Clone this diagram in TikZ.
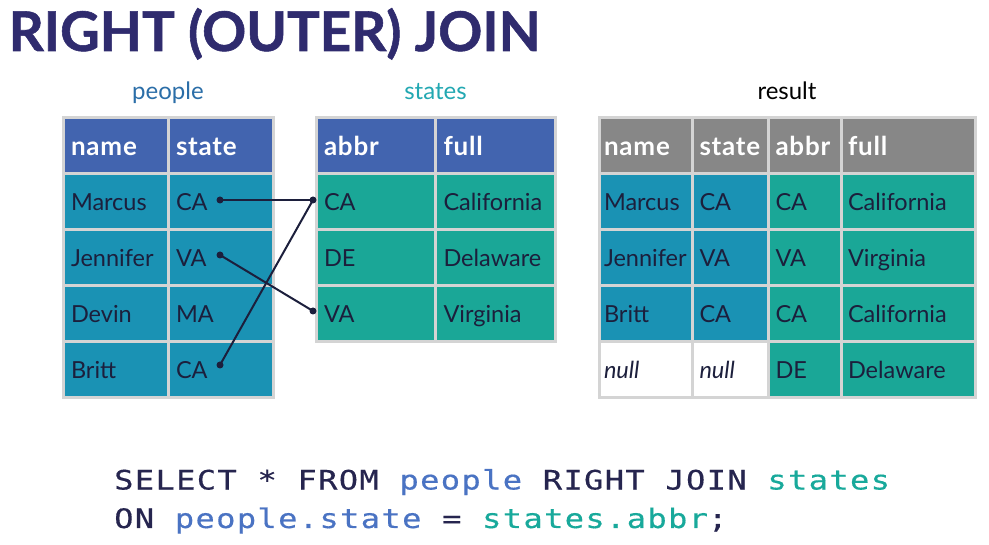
\documentclass[tikz,border=0pt]{standalone}
\usepackage{fontspec}
\setmainfont{Lato}
\newfontfamily\sqlfont[FakeStretch=1.2, LetterSpace=5, FakeBold=0.4]{DejaVu Sans Mono}
\hyphenpenalty=10000

\definecolor{titlenavy}{RGB}{47,43,110}
\definecolor{hdrblue}{RGB}{66,100,175}
\definecolor{hdrgrey}{RGB}{135,135,135}
\definecolor{pblue}{RGB}{26,146,180}
\definecolor{sgreen}{RGB}{26,167,151}
\definecolor{gridgrey}{RGB}{212,212,212}
\definecolor{txtnavy}{RGB}{28,31,60}
\definecolor{lblblue}{RGB}{43,110,168}
\definecolor{lblteal}{RGB}{34,168,178}
\definecolor{kwnavy}{RGB}{38,37,79}
\definecolor{sqlblue}{RGB}{74,115,195}
\definecolor{sqlteal}{RGB}{24,169,155}

\begin{document}
\begin{tikzpicture}[x=1pt, y=-1pt,
    cell/.style={draw=gridgrey, line width=3pt, minimum height=56pt,
      inner xsep=8pt, inner ysep=0pt, align=left, text=txtnavy,
      font=\fontsize{23.5}{28}\selectfont, text height=16.8pt, text depth=0pt},
    hcell/.style={cell, text=white,
      font=\fontsize{26}{30}\selectfont\bfseries\addfontfeature{LetterSpace=3},
      text height=18.5pt},
    nullcell/.style={cell, fill=white, font=\fontsize{23.5}{28}\selectfont\itshape},
    pcol/.style={minimum width=105pt, text width=89pt},
    scol/.style={minimum width=119.5pt, text width=103.5pt},
    rname/.style={minimum width=93.5pt, text width=83.5pt, inner xsep=5pt},
    rstate/.style={minimum width=76pt, text width=62pt, inner xsep=7pt},
    rabbr/.style={minimum width=72.5pt, text width=58.5pt, inner xsep=7pt},
    rfull/.style={minimum width=134pt, text width=120pt, inner xsep=7pt},
    tlabel/.style={anchor=base, inner sep=0pt, font=\fontsize{24}{28}\selectfont},
    sql/.style={anchor=base west, inner sep=0pt, text=kwnavy,
      font=\sqlfont\fontsize{26.75}{32}\selectfont},
    dot/.style={circle, fill=txtnavy, inner sep=0pt, minimum size=7pt},
    joinline/.style={draw=txtnavy, line width=2pt}]
    \useasboundingbox (0,0) rectangle (989,545);
    \fill [white] (0,0) rectangle (989,545);

    % title
    \node [anchor=base west, inner sep=0pt, text=titlenavy,
      font=\fontsize{54.7}{60}\selectfont\bfseries\addfontfeature{FakeBold=1}] (title) at (8.5,51) {RIGHT (OUTER) JOIN};

    % people
    \node [tlabel, text=lblblue] (peoplelbl) at (168,100) {people};
    \node [hcell, pcol, fill=hdrblue] (ph1) at (115.5,146) {name};
    \node [hcell, pcol, fill=hdrblue] (ph2) at (220.5,146) {state};
    \node [cell, pcol, fill=pblue] (p11) at (115.5,202) {Marcus};
    \node [cell, pcol, fill=pblue] (p12) at (220.5,202) {CA};
    \node [cell, pcol, fill=pblue] (p21) at (115.5,258) {Jennifer};
    \node [cell, pcol, fill=pblue] (p22) at (220.5,258) {VA};
    \node [cell, pcol, fill=pblue] (p31) at (115.5,314) {Devin};
    \node [cell, pcol, fill=pblue] (p32) at (220.5,314) {MA};
    \node [cell, pcol, fill=pblue] (p41) at (115.5,370) {Britt};
    \node [cell, pcol, fill=pblue] (p42) at (220.5,370) {CA};

    % states
    \node [tlabel, text=lblteal] (stateslbl) at (435.5,100) {states};
    \node [hcell, scol, fill=hdrblue] (sh1) at (375.75,146) {abbr};
    \node [hcell, scol, fill=hdrblue] (sh2) at (495.25,146) {full};
    \node [cell, scol, fill=sgreen] (s11) at (375.75,202) {CA};
    \node [cell, scol, fill=sgreen] (s12) at (495.25,202) {California};
    \node [cell, scol, fill=sgreen] (s21) at (375.75,258) {DE};
    \node [cell, scol, fill=sgreen] (s22) at (495.25,258) {Delaware};
    \node [cell, scol, fill=sgreen] (s31) at (375.75,314) {VA};
    \node [cell, scol, fill=sgreen] (s32) at (495.25,314) {Virginia};

    % result
    \node [tlabel] (resultlbl) at (787,100) {result};
    \node [hcell, rname, fill=hdrgrey] (rh1) at (645.75,146) {name};
    \node [hcell, rstate, fill=hdrgrey] (rh2) at (730.5,146) {state};
    \node [hcell, rabbr, fill=hdrgrey] (rh3) at (804.75,146) {abbr};
    \node [hcell, rfull, fill=hdrgrey] (rh4) at (908,146) {full};
    \node [cell, rname, fill=pblue] (r11) at (645.75,202) {Marcus};
    \node [cell, rstate, fill=pblue] (r12) at (730.5,202) {CA};
    \node [cell, rabbr, fill=sgreen] (r13) at (804.75,202) {CA};
    \node [cell, rfull, fill=sgreen] (r14) at (908,202) {California};
    \node [cell, rname, fill=pblue] (r21) at (645.75,258) {Jennifer};
    \node [cell, rstate, fill=pblue] (r22) at (730.5,258) {VA};
    \node [cell, rabbr, fill=sgreen] (r23) at (804.75,258) {VA};
    \node [cell, rfull, fill=sgreen] (r24) at (908,258) {Virginia};
    \node [cell, rname, fill=pblue] (r31) at (645.75,314) {Britt};
    \node [cell, rstate, fill=pblue] (r32) at (730.5,314) {CA};
    \node [cell, rabbr, fill=sgreen] (r33) at (804.75,314) {CA};
    \node [cell, rfull, fill=sgreen] (r34) at (908,314) {California};
    \node [nullcell, rname] (r41) at (645.75,370) {null};
    \node [nullcell, rstate] (r42) at (730.5,370) {null};
    \node [cell, rabbr, fill=sgreen] (r43) at (804.75,370) {DE};
    \node [cell, rfull, fill=sgreen] (r44) at (908,370) {Delaware};

    % joins
    \node [dot] (mcadot) at (220,200) {};
    \node [dot] (jvadot) at (220,255) {};
    \node [dot] (bcadot) at (220,365) {};
    \node [dot] (cadot) at (313,200) {};
    \node [dot] (vadot) at (313,311) {};
    \draw [joinline] (mcadot.center) -- (cadot.center);
    \draw [joinline] (jvadot.center) -- (vadot.center);
    \draw [joinline] (bcadot.center) -- (cadot.center);

    % query
    \node [sql] (query1) at (114,489.5) {SELECT * FROM {\color{sqlblue}people} RIGHT JOIN {\color{sqlteal}states}};
    \node [sql] (query2) at (114,528) {ON {\color{sqlblue}people.state} = {\color{sqlteal}states.abbr};};
\end{tikzpicture}
\end{document}
